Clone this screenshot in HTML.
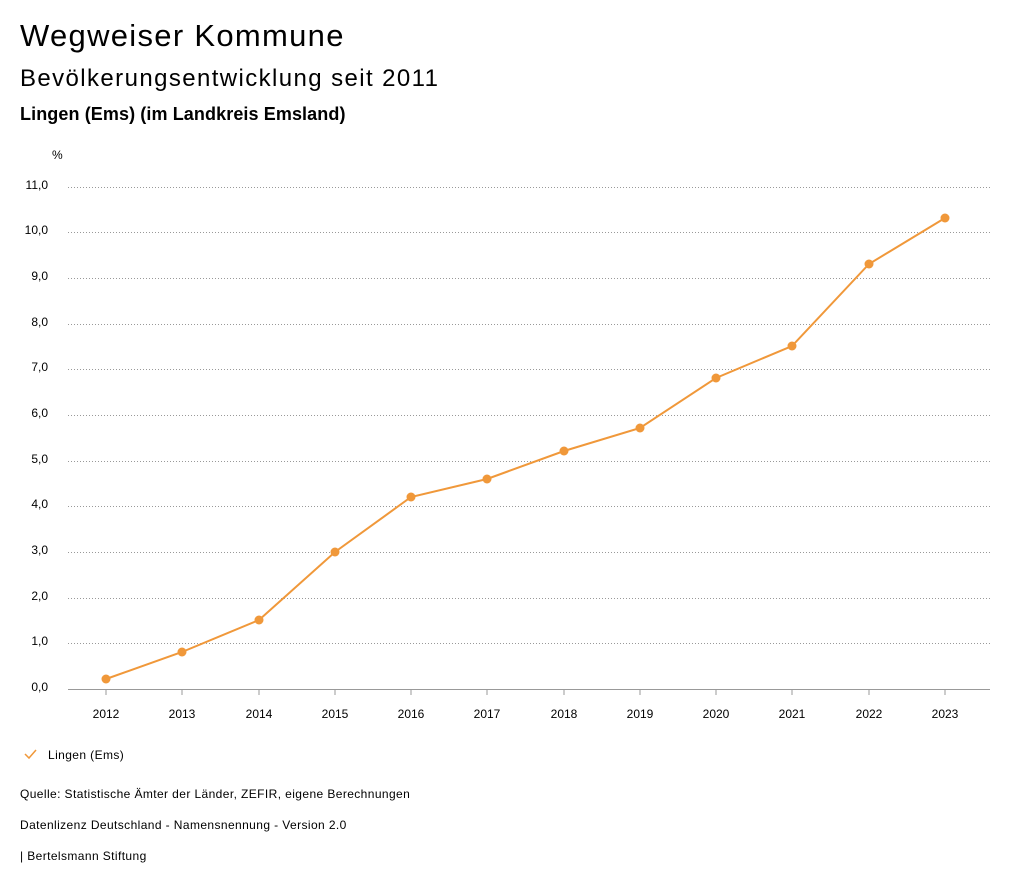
<!DOCTYPE html>
<html><head><meta charset="utf-8"><style>
body{margin:0;background:#fff;width:1024px;height:888px;overflow:hidden;font-family:"Liberation Sans",sans-serif;color:#000}
.t{position:absolute;white-space:nowrap}
</style></head><body>
<div class="t" style="left:20px;top:18px;font-size:31px;letter-spacing:1.3px">Wegweiser Kommune</div>
<div class="t" style="left:20px;top:65px;font-size:24px;letter-spacing:1.4px">Bevölkerungsentwicklung seit 2011</div>
<div class="t" style="left:20px;top:104px;font-size:18px;font-weight:bold;letter-spacing:0.1px">Lingen (Ems) (im Landkreis Emsland)</div>
<svg width="1024" height="888" style="position:absolute;left:0;top:0" font-family="Liberation Sans, sans-serif" font-size="12">
<text x="52" y="159">%</text>
<g stroke="#999" stroke-dasharray="1,2" stroke-width="1">
<line x1="68" x2="990" y1="187.5" y2="187.5"/><line x1="68" x2="990" y1="232.5" y2="232.5"/><line x1="68" x2="990" y1="278.5" y2="278.5"/><line x1="68" x2="990" y1="324.5" y2="324.5"/><line x1="68" x2="990" y1="369.5" y2="369.5"/><line x1="68" x2="990" y1="415.5" y2="415.5"/><line x1="68" x2="990" y1="461.5" y2="461.5"/><line x1="68" x2="990" y1="506.5" y2="506.5"/><line x1="68" x2="990" y1="552.5" y2="552.5"/><line x1="68" x2="990" y1="598.5" y2="598.5"/><line x1="68" x2="990" y1="643.5" y2="643.5"/>
</g>
<line x1="68" x2="990" y1="689.5" y2="689.5" stroke="#999"/>
<g text-anchor="end">
<text x="48" y="189">11,0</text><text x="48" y="234">10,0</text><text x="48" y="280">9,0</text><text x="48" y="326">8,0</text><text x="48" y="371">7,0</text><text x="48" y="417">6,0</text><text x="48" y="463">5,0</text><text x="48" y="508">4,0</text><text x="48" y="554">3,0</text><text x="48" y="600">2,0</text><text x="48" y="645">1,0</text><text x="48" y="691">0,0</text>
</g>
<g stroke="#999"><line x1="106" x2="106" y1="689" y2="695"/><line x1="182" x2="182" y1="689" y2="695"/><line x1="259" x2="259" y1="689" y2="695"/><line x1="335" x2="335" y1="689" y2="695"/><line x1="411" x2="411" y1="689" y2="695"/><line x1="487" x2="487" y1="689" y2="695"/><line x1="564" x2="564" y1="689" y2="695"/><line x1="640" x2="640" y1="689" y2="695"/><line x1="716" x2="716" y1="689" y2="695"/><line x1="792" x2="792" y1="689" y2="695"/><line x1="869" x2="869" y1="689" y2="695"/><line x1="945" x2="945" y1="689" y2="695"/></g>
<g text-anchor="middle">
<text x="106" y="718">2012</text><text x="182" y="718">2013</text><text x="259" y="718">2014</text><text x="335" y="718">2015</text><text x="411" y="718">2016</text><text x="487" y="718">2017</text><text x="564" y="718">2018</text><text x="640" y="718">2019</text><text x="716" y="718">2020</text><text x="792" y="718">2021</text><text x="869" y="718">2022</text><text x="945" y="718">2023</text>
</g>
<polyline fill="none" stroke="#f0983a" stroke-width="2" points="106,679 182,652 259,620 335,552 411,497 487,479 564,451 640,428 716,378 792,346 869,264 945,218"/>
<g fill="#f0983a"><circle cx="106" cy="679" r="4.5"/><circle cx="182" cy="652" r="4.5"/><circle cx="259" cy="620" r="4.5"/><circle cx="335" cy="552" r="4.5"/><circle cx="411" cy="497" r="4.5"/><circle cx="487" cy="479" r="4.5"/><circle cx="564" cy="451" r="4.5"/><circle cx="640" cy="428" r="4.5"/><circle cx="716" cy="378" r="4.5"/><circle cx="792" cy="346" r="4.5"/><circle cx="869" cy="264" r="4.5"/><circle cx="945" cy="218" r="4.5"/></g>
<polyline fill="none" stroke="#f0983a" stroke-width="1.5" points="25,754 29,758 36,750"/>
<g letter-spacing="0.4">
<text x="48" y="759">Lingen (Ems)</text>
<text x="20" y="798">Quelle: Statistische Ämter der Länder, ZEFIR, eigene Berechnungen</text>
<text x="20" y="829">Datenlizenz Deutschland - Namensnennung - Version 2.0</text>
<text x="20" y="860">| Bertelsmann Stiftung</text>
</g>
</svg>
</body></html>
